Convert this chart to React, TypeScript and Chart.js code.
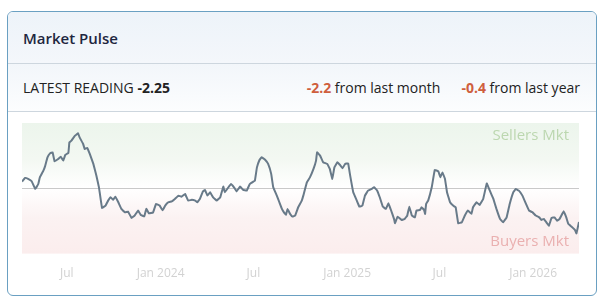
import React, { useEffect, useRef } from "react";
import { Chart, registerables } from "chart.js";

Chart.register(...registerables);

// Day offsets relative to 2023-07-01
const dayOffsets = [
  -88, -82, -76, -69, -62, -56, -53, -46, -43, -38, -33, -28, -24, -17, -12, -7, -3, 3, 5, 9,
  16, 22, 25, 32, 35, 40, 45, 52, 58, 63, 69, 76, 81, 86, 91, 95, 101, 107, 114, 120,
  127, 133, 140, 145, 152, 156, 161, 169, 175, 182, 188, 193, 199, 206, 212, 219, 225, 232, 238, 245,
  252, 256, 261, 267, 271, 276, 281, 287, 294, 301, 307, 310, 317, 322, 328, 333, 340, 346, 353, 359,
  366, 369, 373, 378, 382, 389, 395, 401, 405, 412, 417, 422, 426, 430, 433, 438, 443, 448, 454, 461,
  464, 471, 477, 484, 489, 491, 497, 503, 511, 516, 521, 525, 531, 536, 541, 546, 552, 556, 562, 569,
  574, 580, 585, 591, 598, 603, 609, 614, 620, 626, 631, 636, 642, 644, 649, 657, 663, 668, 672, 677,
  683, 686, 693, 696, 701, 703, 705, 709, 716, 722, 729, 733, 737, 742, 746, 752, 758, 763, 768, 775,
  781, 787, 794, 797, 804, 810, 817, 824, 830, 837, 843, 850, 856, 863, 869, 876, 881, 887, 894, 901,
  907, 914, 920, 927, 931, 936, 941, 946, 951, 957, 962, 967, 975, 980, 984, 990, 997, 1000, 1005,
];

const pulseValues = [
  0.42, 0.66, 0.6, 0.44, -0.07, 0.26, 0.7, 1.15, 1.41, 2.03, 2.29, 2.36, 1.76, 1.92, 2.07, 1.81, 2.19, 2.32, 3.02, 3.13,
  3.46, 3.62, 3.35, 2.91, 2.58, 2.65, 2.25, 1.59, 0.81, 0.04, -1.32, -1.17, -0.84, -0.62, -0.79, -0.58, -0.95, -1.39, -1.62, -1.57,
  -1.99, -1.83, -1.5, -1.79, -1.88, -1.39, -1.68, -1.64, -1.06, -1.17, -1.48, -1.17, -0.95, -0.89, -0.73, -0.51, -0.58, -0.4, -0.84, -0.79,
  -0.84, -0.95, -0.73, -0.23, -0.13, -0.51, -0.29, -0.62, -0.84, -0.62, 0.09, -0.29, 0.04, 0.26, 0.04, -0.23, 0.09, -0.13, -0.18, 0.26,
  0.42, 0.48, 1.36, 1.85, 2.03, 1.87, 1.59, 0.93, 0.04, -0.51, -0.95, -1.39, -1.62, -1.77, -1.4, -1.72, -1.9, -1.83, -1.28, -0.84,
  -0.51, 0.37, 0.7, 1.26, 1.81, 2.36, 2.14, 1.7, 1.59, 1.26, 0.6, 1.36, 1.7, 1.52, 1.3, 1.59, 1.63, 0.81, -0.29, -0.84,
  -1.24, -1.17, -0.51, -0.18, -0.07, 0.04, -0.18, -0.62, -1.24, -1.39, -1.02, -1.46, -2.05, -2.34, -1.9, -2.12, -2.05, -1.83, -1.24, -1.83,
  -1.95, -1.5, -1.46, -1.28, -1.46, -1.72, -1.06, -0.84, 0.04, 1.19, 1.1, 0.7, 1.03, 0.6, -0.29, -0.95, -1.17, -1.28, -2.34, -2.28,
  -1.83, -1.5, -1.72, -1.28, -0.95, -1.13, -0.73, 0.3, -0.18, -0.73, -1.39, -2.05, -2.28, -1.95, -1.06, -0.29, -0.07, -0.18, -0.51, -1.06,
  -1.5, -1.62, -1.83, -1.95, -2.12, -2.05, -2.28, -2.5, -1.99, -1.95, -2.17, -2.05, -1.55, -1.95, -2.38, -2.56, -2.78, -3.01, -2.25,
];

const tickDays = [0, 184, 366, 550, 731, 915];
const tickLabels = ["Jul", "Jan 2024", "Jul", "Jan 2025", "Jul", "Jan 2026"];

const title = "Market Pulse";
const latestReading = "-2.25";
const monthChange = "-2.2";
const yearChange = "-0.4";

const FONT = "'Open Sans', sans-serif";

const bandPlugin = {
  id: "bands",
  beforeDatasetsDraw(chart: any) {
    const { ctx, chartArea, scales } = chart;
    const { left, right, top, bottom } = chartArea;
    const zeroY = scales.y.getPixelForValue(0);
    ctx.save();
    const g1 = ctx.createLinearGradient(0, top, 0, zeroY);
    g1.addColorStop(0, "rgba(236,245,236,1)");
    g1.addColorStop(0.55, "rgba(243,248,242,1)");
    g1.addColorStop(1, "rgba(255,255,255,1)");
    ctx.fillStyle = g1;
    ctx.fillRect(left, top, right - left, zeroY - top);
    const g2 = ctx.createLinearGradient(0, zeroY, 0, bottom);
    g2.addColorStop(0, "rgba(255,255,255,1)");
    g2.addColorStop(0.45, "rgba(251,242,242,1)");
    g2.addColorStop(1, "rgba(251,237,237,1)");
    ctx.fillStyle = g2;
    ctx.fillRect(left, zeroY, right - left, bottom - zeroY);
    ctx.strokeStyle = "#c9c9c9";
    ctx.lineWidth = 1;
    ctx.beginPath();
    ctx.moveTo(left, Math.round(zeroY) + 0.5);
    ctx.lineTo(right, Math.round(zeroY) + 0.5);
    ctx.stroke();
    ctx.font = `15px ${FONT}`;
    ctx.textAlign = "right";
    ctx.textBaseline = "middle";
    ctx.fillStyle = "#bcd7b0";
    ctx.fillText("Sellers Mkt", right - 10, top + 12.5);
    ctx.fillStyle = "#eab0b0";
    ctx.fillText("Buyers Mkt", right - 10, bottom - 12);
    ctx.restore();
  },
};

function PulseChart() {
  const ref = useRef<HTMLCanvasElement | null>(null);
  useEffect(() => {
    if (!ref.current) return;
    const chart = new Chart(ref.current, {
      type: "line",
      data: {
        datasets: [
          {
            data: dayOffsets.map((d, i) => ({ x: d, y: pulseValues[i] })),
            borderColor: "#687a89",
            borderWidth: 2,
            pointRadius: 0,
            tension: 0.05,
            fill: false,
          },
        ],
      },
      options: {
        animation: false,
        responsive: false,
        maintainAspectRatio: false,
        layout: { padding: { left: 14, right: 17, top: 11, bottom: 1 } },
        plugins: { legend: { display: false }, tooltip: { enabled: false } },
        scales: {
          x: {
            type: "linear",
            min: -88,
            max: 1005,
            grid: { display: false, drawTicks: false },
            border: { display: false },
            afterBuildTicks: (axis: any) => {
              axis.ticks = tickDays.map((v) => ({ value: v }));
            },
            ticks: {
              padding: 13,
              autoSkip: false,
              maxRotation: 0,
              color: "#d2d2d2",
              font: { family: FONT, size: 12 },
              callback: (v: any) => {
                const i = tickDays.indexOf(Number(v));
                return i >= 0 ? tickLabels[i] : "";
              },
            },
          },
          y: {
            display: false,
            min: -4.35,
            max: 4.3,
          },
        },
      },
      plugins: [bandPlugin],
    });
    return () => chart.destroy();
  }, []);
  return <canvas ref={ref} width={588} height={183} style={{ display: "block", width: 588, height: 183 }} />;
}

export default function App() {
  return (
    <div
      style={{
        position: "absolute",
        left: 7,
        top: 11,
        width: 590,
        height: 285,
        boxSizing: "border-box",
        border: "1px solid #6aa0c2",
        borderRadius: 6,
        overflow: "hidden",
        background: "#ffffff",
        fontFamily: FONT,
      }}
    >
      <div
        style={{
          height: 51,
          borderBottom: "1px solid #cdd6de",
          background: "linear-gradient(180deg, #edf3f9 0%, #f4f7fb 100%)",
          display: "flex",
          alignItems: "center",
          paddingLeft: 15,
          fontSize: 15,
          fontWeight: 600,
          color: "#1e2640",
        }}
      >
        {title}
      </div>
      <div
        style={{
          height: 47,
          borderBottom: "1px solid #cdd6de",
          background: "linear-gradient(180deg, #f2f6fa 0%, #fcfdfe 100%)",
          display: "flex",
          alignItems: "center",
          justifyContent: "space-between",
          paddingLeft: 15,
          paddingRight: 16,
          fontSize: 14,
          color: "#222222",
        }}
      >
        <span>
          LATEST READING <b style={{ fontWeight: 700 }}>{latestReading}</b>
        </span>
        <span>
          <b style={{ color: "#cf5f3d", fontWeight: 700 }}>{monthChange}</b> from last month
          <b style={{ color: "#cf5f3d", fontWeight: 700, marginLeft: 21 }}>{yearChange}</b> from last year
        </span>
      </div>
      <PulseChart />
    </div>
  );
}
